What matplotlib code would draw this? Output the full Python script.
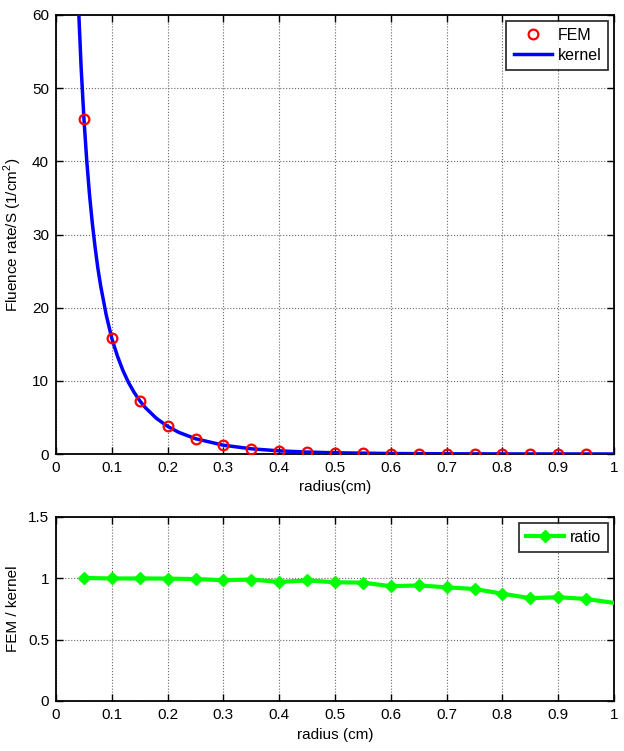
import matplotlib
matplotlib.use("Agg")
import matplotlib.pyplot as plt
import numpy as np

plt.rcParams['font.family'] = ['Liberation Sans', 'DejaVu Sans']
plt.rcParams['mathtext.fontset'] = 'custom'
plt.rcParams['mathtext.rm'] = 'Liberation Sans'

# FEM samples
fem_r = [0.05, 0.10, 0.15, 0.20, 0.25, 0.30, 0.35, 0.40, 0.45, 0.50,
         0.55, 0.60, 0.65, 0.70, 0.75, 0.80, 0.85, 0.90, 0.95]
fem_val = [45.8, 15.8, 7.3, 3.8, 2.1, 1.25, 0.75, 0.45, 0.27, 0.17,
           0.10, 0.06, 0.04, 0.025, 0.015, 0.009, 0.005, 0.003, 0.002]

# kernel curve
kern_r = [0.035, 0.04, 0.045, 0.05, 0.055, 0.06, 0.065, 0.07, 0.075, 0.08, 0.09,
          0.10, 0.11, 0.12, 0.13, 0.14, 0.15, 0.16, 0.18, 0.20, 0.22,
          0.25, 0.30, 0.35, 0.40, 0.45, 0.50, 0.60, 0.70, 0.80, 0.90, 1.00]
kern_val = [73.2, 61.7, 52.9, 45.9, 40.2, 35.5, 31.6, 28.3, 25.4, 23.0, 19.0,
            15.8, 13.4, 11.4, 9.76, 8.42, 7.29, 6.35, 4.87, 3.78, 2.96,
            2.09, 1.20, 0.71, 0.43, 0.264, 0.164, 0.065, 0.027, 0.011, 0.0048, 0.002]

# ratio
ratio_r = [0.05, 0.10, 0.15, 0.20, 0.25, 0.30, 0.35, 0.40, 0.45, 0.50,
           0.55, 0.60, 0.65, 0.70, 0.75, 0.80, 0.85, 0.90, 0.95, 1.00]
ratio_val = [1.003, 0.999, 0.999, 0.998, 0.994, 0.985, 0.990, 0.971, 0.983, 0.968,
             0.965, 0.936, 0.942, 0.927, 0.913, 0.875, 0.838, 0.846, 0.832, 0.80]

xticks = [0, 0.1, 0.2, 0.3, 0.4, 0.5, 0.6, 0.7, 0.8, 0.9, 1]
xticklabels = ['0', '0.1', '0.2', '0.3', '0.4', '0.5', '0.6', '0.7', '0.8', '0.9', '1']

W, H = 624, 751
fig = plt.figure(figsize=(W / 100, H / 100), dpi=100)

def box(l, t, r, b):
    return [l / W, 1 - b / H, (r - l) / W, (b - t) / H]

ax1 = fig.add_axes(box(56, 15, 614, 454))
ax2 = fig.add_axes(box(56, 517, 614, 701))

fs = 11

def style(ax):
    ax.set_xlim(0, 1)
    ax.set_xticks(xticks)
    ax.set_xticklabels(xticklabels)
    ax.grid(True, linestyle=':', color='#666666', linewidth=0.8)
    ax.tick_params(direction='in', top=True, right=True, labelsize=fs,
                   length=5, width=1, pad=5)
    for s in ax.spines.values():
        s.set_linewidth(1.3)
    ax.set_axisbelow(True)

ax1.plot(kern_r, kern_val, color='#0000ff', lw=2.5, label='kernel', zorder=3)
ax1.plot(fem_r, fem_val, 'o', ms=7, mfc='none', mec='#ff0000', mew=1.6,
         label='FEM', zorder=4)
style(ax1)
ax1.set_ylim(0, 60)
ax1.set_yticks([0, 10, 20, 30, 40, 50, 60])
ax1.set_xlabel('radius(cm)', fontsize=fs, labelpad=4)
ax1.set_ylabel('Fluence rate/S (1/cm$^2$)', fontsize=fs, labelpad=6)
h, l = ax1.get_legend_handles_labels()
leg1 = ax1.legend(h[::-1], l[::-1], loc='upper right', fontsize=fs + 0.5, frameon=True,
                  fancybox=False, edgecolor='black', handlelength=2.4,
                  borderaxespad=0.35, labelspacing=0.3, handletextpad=0.35,
                  borderpad=0.45)
leg1.get_frame().set_linewidth(1.3)

ax2.plot(ratio_r, ratio_val, color='#00ff00', lw=3, marker='D', ms=6,
         mfc='#00ff00', mec='#00ff00', markevery=slice(0, 19), label='ratio',
         zorder=3)
style(ax2)
ax2.set_ylim(0, 1.5)
ax2.set_yticks([0, 0.5, 1, 1.5])
ax2.set_yticklabels(['0', '0.5', '1', '1.5'])
ax2.set_xlabel('radius (cm)', fontsize=fs, labelpad=4)
ax2.set_ylabel('FEM / kernel', fontsize=fs, labelpad=6)
leg2 = ax2.legend(loc='upper right', fontsize=fs + 0.5, frameon=True, fancybox=False,
                  edgecolor='black', handlelength=2.4, borderaxespad=0.35,
                  handletextpad=0.35, borderpad=0.45)
leg2.get_frame().set_linewidth(1.3)

fig.savefig('out.png', dpi=100)
